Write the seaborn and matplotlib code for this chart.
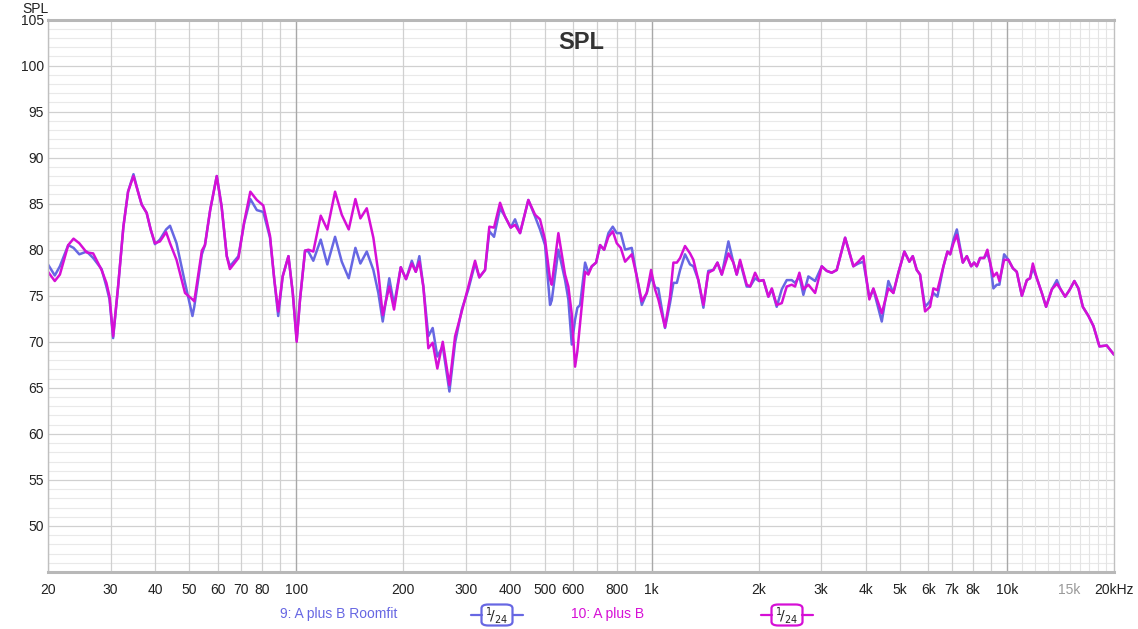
import matplotlib
matplotlib.use('Agg')
import matplotlib.pyplot as plt
import seaborn as sns
import pandas as pd
from matplotlib.patches import FancyBboxPatch
from matplotlib.lines import Line2D

sns.set_theme(style="white")
plt.rcParams['font.family'] = ['Liberation Sans', 'DejaVu Sans']

# datos (Hz, dB SPL)
freq = [20.0, 20.9, 21.6, 22.8, 23.6, 24.5, 25.7, 26.8, 28.3, 29.2, 29.8, 30.5, 31.5, 32.6,
        33.6, 34.8, 35.9, 36.7, 37.9, 38.9, 40.0, 41.3, 43.0, 44.1, 46.0, 48.6, 51.0, 51.6,
        54.2, 55.3, 57.2, 59.7, 61.6, 63.7, 65.0, 68.7, 71.3, 74.2, 77.4, 80.7, 84.3, 86.7,
        88.9, 91.5, 95.0, 97.7, 100.2, 102.4, 105.8, 108.1, 111.6, 117.1, 122.2, 128.5,
        134.2, 140.4, 146.6, 151.4, 157.8, 164.7, 170.1, 175.0, 182.6, 188.3, 196.7, 203.5,
        211.3, 216.8, 221.9, 227.7, 235.2, 241.9, 249.3, 258.2, 269.6, 279.7, 292.1, 304.8,
        318.3, 327.3, 339.6, 349.2, 360.0, 374.3, 386.6, 401.1, 412.5, 426.1, 449.6, 469.6,
        484.9, 501.0, 517.5, 523.3, 546.2, 570.4, 582.7, 595.7, 608.6, 617.8, 628.7, 649.4,
        663.4, 678.3, 697.4, 715.8, 734.6, 755.4, 776.9, 797.4, 818.3, 841.6, 878.8, 907.8,
        937.7, 968.5, 995.9, 1022, 1044, 1090, 1126, 1151, 1177, 1202, 1241, 1282, 1310,
        1353, 1398, 1443, 1491, 1531, 1575, 1644, 1698, 1735, 1773, 1851, 1892, 1954, 2005,
        2063, 2130, 2178, 2248, 2323, 2399, 2478, 2532, 2604, 2672, 2760, 2883, 3010, 3109,
        3211, 3317, 3502, 3694, 3816, 3941, 4098, 4206, 4441, 4635, 4787, 4945, 5141, 5311,
        5428, 5571, 5691, 5879, 6073, 6204, 6369, 6623, 6797, 6917, 7067, 7224, 7510, 7707,
        7924, 8080, 8220, 8398, 8619, 8805, 8961, 9155, 9359, 9517, 9812, 10090, 10380,
        10650, 11010, 11370, 11610, 11820, 12130, 12530, 12880, 13370, 13810, 14100, 14570,
        14980, 15470, 15880, 16340, 16950, 17510, 18200, 19080, 20000]

spl_roomfit = [78.4, 77.2, 78.2, 80.5, 80.2, 79.5, 79.8, 79.1, 77.9, 76.0, 74.6, 70.4, 76.0, 82.5,
               86.3, 88.2, 86.2, 84.9, 84.0, 82.2, 80.6, 81.1, 82.2, 82.6, 80.7, 76.4, 72.8, 73.8,
               79.5, 80.5, 84.3, 88.0, 84.7, 79.3, 78.2, 79.3, 82.9, 85.5, 84.3, 84.1, 81.3, 76.7,
               72.8, 77.1, 79.3, 75.3, 70.2, 74.6, 79.9, 79.8, 78.8, 81.1, 78.4, 81.4,
               78.7, 76.9, 80.2, 78.5, 79.8, 77.8, 75.3, 72.2, 76.9, 74.0, 78.1, 76.8,
               78.8, 77.6, 79.3, 76.0, 70.6, 71.5, 68.4, 69.5, 64.6, 69.9, 73.5, 75.7,
               78.5, 77.0, 77.8, 82.0, 81.4, 84.5, 83.6, 82.4, 83.3, 81.8, 85.4, 83.6,
               82.2, 80.5, 74.0, 74.5, 80.0, 76.7, 74.6, 69.7, 72.4, 73.7, 74.0, 78.6,
               77.5, 78.2, 78.6, 80.5, 80.0, 81.8, 82.5, 81.8, 81.8, 80.0, 80.2, 77.1,
               74.0, 75.3, 77.1, 75.9, 75.8, 71.5, 74.2, 76.4, 76.4, 77.8, 79.5, 78.4, 78.2,
               76.7, 73.7, 77.7, 77.8, 78.6, 77.3, 80.9, 78.6, 77.3, 78.7, 76.0, 76.0, 76.9, 76.6,
               76.7, 74.9, 75.7, 73.8, 75.7, 76.7, 76.7, 76.4, 77.1, 75.1, 77.1, 76.6, 78.2, 77.7,
               77.5, 77.8, 81.3, 78.2, 78.5, 78.7, 74.8, 75.7, 72.2, 76.6, 75.3, 77.5, 79.8, 78.7,
               79.3, 77.8, 77.3, 73.8, 74.4, 75.3, 74.9, 78.2, 79.8, 79.5, 81.1, 82.2, 78.6, 79.3,
               78.2, 78.6, 78.2, 79.1, 79.1, 79.6, 78.6, 75.8, 76.2, 76.2, 79.5, 78.9, 78.0,
               77.6, 75.0, 76.7, 76.9, 78.0, 76.9, 75.3, 73.8, 75.7, 76.7, 75.8, 74.9,
               75.6, 76.6, 75.8, 73.8, 72.8, 71.7, 69.5, 69.6, 68.6]

spl_plain = [77.6, 76.6, 77.3, 80.5, 81.2, 80.7, 79.7, 79.6, 77.8, 76.4, 74.9, 70.6, 76.0, 82.5,
             86.3, 88.0, 86.2, 84.9, 84.0, 82.2, 80.7, 80.9, 81.9, 80.7, 78.9, 75.3, 74.6, 74.4,
             79.9, 80.5, 84.3, 88.0, 84.7, 79.3, 77.9, 79.1, 83.0, 86.3, 85.4, 84.8, 81.5, 76.7,
             73.3, 77.1, 79.3, 75.3, 70.0, 74.6, 79.9, 80.0, 79.8, 83.7, 82.2, 86.3,
             83.8, 82.2, 85.5, 83.4, 84.5, 81.3, 77.5, 72.9, 76.0, 73.5, 78.1, 76.8,
             78.5, 77.6, 78.7, 76.0, 69.3, 69.9, 67.1, 70.0, 65.3, 70.6, 73.3, 76.0,
             78.8, 77.0, 77.8, 82.5, 82.4, 85.1, 83.6, 82.4, 82.7, 81.8, 85.4, 83.8,
             83.3, 81.1, 76.8, 76.2, 81.8, 77.3, 76.0, 73.0, 67.3, 69.0, 72.0, 77.6,
             77.3, 78.2, 78.6, 80.5, 80.0, 81.4, 82.0, 80.7, 80.2, 78.7, 79.5, 77.1,
             74.4, 75.3, 77.8, 75.7, 74.6, 71.6, 74.9, 78.6, 78.6, 79.1, 80.4, 79.6, 78.9,
             76.7, 74.0, 77.5, 77.8, 78.6, 77.3, 79.6, 78.6, 77.3, 78.9, 76.2, 76.0, 77.5, 76.6,
             76.7, 74.9, 75.8, 74.0, 74.2, 76.0, 76.2, 76.0, 77.5, 75.7, 76.2, 75.3, 78.2, 77.7,
             77.5, 77.8, 81.3, 78.2, 78.7, 79.3, 74.6, 75.8, 73.1, 75.8, 75.3, 77.5, 79.8, 78.7,
             79.3, 77.8, 77.3, 73.3, 73.8, 75.8, 75.6, 78.2, 79.8, 79.5, 80.7, 81.6, 78.6, 79.3,
             78.2, 78.6, 78.2, 79.1, 79.1, 80.0, 78.6, 77.1, 77.5, 76.6, 78.9, 78.9, 78.0,
             77.6, 75.0, 76.7, 76.9, 78.5, 76.9, 75.3, 73.8, 75.7, 76.3, 75.8, 74.9,
             75.6, 76.6, 75.8, 73.8, 72.8, 71.7, 69.5, 69.6, 68.6]

tick_freqs = [20, 30, 40, 50, 60, 70, 80, 100, 200, 300, 400, 500, 600, 800, 1000,
              2000, 3000, 4000, 5000, 6000, 7000, 8000, 10000, 15000, 20000]
tick_labels = ['20', '30', '40', '50', '60', '70', '80', '100', '200', '300', '400', '500',
               '600', '800', '1k', '2k', '3k', '4k', '5k', '6k', '7k', '8k', '10k', '15k', '20kHz']
y_ticks = [50, 55, 60, 65, 70, 75, 80, 85, 90, 95, 100, 105]

names = ['9: A plus B Roomfit', '10: A plus B']
BLUE = '#6767e3'
MAGENTA = '#d60fd6'

df = pd.DataFrame({'freq': freq, names[0]: spl_roomfit, names[1]: spl_plain})

fig = plt.figure(figsize=(11.38, 6.29), dpi=100)
ax = fig.add_axes([48 / 1138, 1 - 572 / 629, 1066 / 1138, (572 - 19.5) / 629])
ax.set_xscale('log')
ax.set_xlim(20, 20000)
ax.set_ylim(45, 105)

# rejilla
for d in range(46, 105):
    if d % 5:
        ax.axhline(d, color='#e9e9e9', lw=0.8, zorder=0)
    else:
        ax.axhline(d, color='#d0d0d0', lw=0.9, zorder=0)
for dec in [10, 100, 1000]:
    for m in range(2, 10):
        f = m * dec
        if f < 20:
            continue
        ax.axvline(f, color='#d0d0d0', lw=0.9, zorder=0)
for f in [100, 1000, 10000]:
    ax.axvline(f, color='#a8a8a8', lw=1.0, zorder=0)
for k in range(11, 20):
    ax.axvline(k * 1000, color='#e4e4e4', lw=0.8, zorder=0)

sns.lineplot(data=df, x='freq', y=names[0], ax=ax, color=BLUE, lw=1.8, estimator=None,
             sort=False, solid_joinstyle='round', solid_capstyle='round')
sns.lineplot(data=df, x='freq', y=names[1], ax=ax, color=MAGENTA, lw=1.8, estimator=None,
             sort=False, solid_joinstyle='round', solid_capstyle='round')

ax.set_xticks(tick_freqs)
ax.set_xticklabels(tick_labels)
ax.set_xticks([], minor=True)
ax.set_yticks(y_ticks)
ax.set_yticklabels([str(v) for v in y_ticks])
ax.tick_params(axis='both', length=0, labelsize=10, colors='#222222')
ax.tick_params(axis='x', pad=8)
ax.tick_params(axis='y', pad=3)
for lbl in ax.get_xticklabels():
    if lbl.get_text() == '15k':
        lbl.set_color('#999999')
ax.set_xlabel('')
ax.set_ylabel('')

for side in ['top', 'bottom']:
    ax.spines[side].set_color('#b8b8b8')
    ax.spines[side].set_linewidth(2.2)
for side in ['left', 'right']:
    ax.spines[side].set_color('#c0c0c0')
    ax.spines[side].set_linewidth(1.0)

ax.text(0.5, 0.958, 'SPL', transform=ax.transAxes, ha='center', va='center',
        fontsize=17, fontweight='bold', color='#333333')
fig.text(35 / 1138, 1 - 9 / 629, 'SPL', ha='center', va='center', fontsize=10, color='#222222')

# leyenda inferior
def smoothing_badge(xc, color):
    yc = 1 - 615 / 629
    w, h = 31 / 1138, 21 / 629
    fig.add_artist(Line2D([xc - 26 / 1138, xc - w / 2], [yc, yc], color=color, lw=1.6))
    fig.add_artist(Line2D([xc + w / 2, xc + 26 / 1138], [yc, yc], color=color, lw=1.6))
    box = FancyBboxPatch((xc - w / 2, yc - h / 2), w, h, boxstyle='round,pad=0,rounding_size=0.006',
                         transform=fig.transFigure, fc='white', ec=color, lw=1.6)
    fig.add_artist(box)
    fig.text(xc, yc, r'$^{1}\!/_{24}$', ha='center', va='center', fontsize=10, color='#222222')

fig.text(339 / 1138, 1 - 614 / 629, names[0], ha='center', va='center', fontsize=10, color=BLUE)
smoothing_badge(497 / 1138, BLUE)
fig.text(608 / 1138, 1 - 614 / 629, names[1], ha='center', va='center', fontsize=10, color=MAGENTA)
smoothing_badge(787 / 1138, MAGENTA)

fig.savefig('out.png', dpi=100, facecolor='white')
plt.close(fig)
